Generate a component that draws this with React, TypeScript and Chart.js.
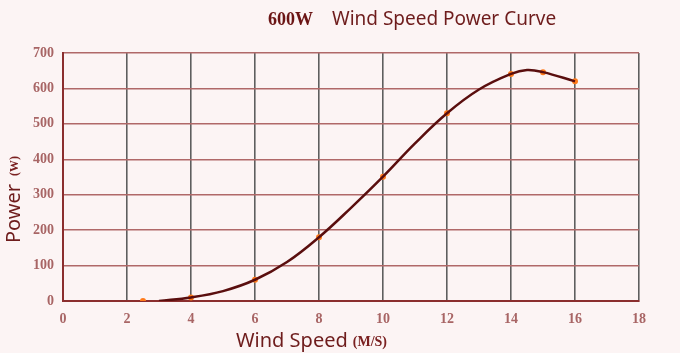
import React, { useEffect, useRef } from "react";
import { Chart, registerables } from "chart.js";

Chart.register(...registerables);

const curveX = [3, 4, 5, 6, 7, 8, 9, 10, 11, 12, 13, 14, 14.5, 15, 16];
const curveY = [0, 10, 28, 60, 110, 180, 263, 351, 445, 530, 597, 641, 652, 646, 620];
const markerX = [2.5, 4, 6, 8, 10, 12, 14, 15, 16];
const markerY = [0, 10, 60, 180, 351, 530, 641, 646, 620];
const titleBold = "600W";
const titleText = "Wind Speed Power Curve";
const xTitle = "Wind Speed";
const xUnit = "(M/S)";
const yTitle = "Power";
const yUnit = "(W)";

const textPlugin = {
  id: "customText",
  beforeDraw(chart: any) {
    const ctx = chart.ctx;
    ctx.save();
    ctx.fillStyle = "#fcf4f4";
    ctx.fillRect(0, 0, chart.width, chart.height);
    ctx.restore();
  },
  afterDraw(chart: any) {
    const ctx = chart.ctx;
    ctx.save();
    ctx.textBaseline = "middle";
    ctx.textAlign = "left";
    ctx.font = "bold 18px 'Liberation Serif'";
    ctx.fillStyle = "#6b1515";
    ctx.fillText(titleBold, 268, 20);
    ctx.font = "19px 'Noto Sans'";
    ctx.fillStyle = "#6e1c1c";
    ctx.fillText(titleText, 332, 20);
    ctx.font = "20px 'Noto Sans'";
    ctx.fillStyle = "#6e1c1c";
    ctx.fillText(xTitle, 236, 341);
    const w = ctx.measureText(xTitle).width;
    ctx.font = "bold 14px 'Liberation Serif'";
    ctx.fillStyle = "#7a2020";
    ctx.fillText(xUnit, 236 + w + 5, 342);
    ctx.translate(14, 243);
    ctx.rotate(-Math.PI / 2);
    ctx.font = "20px 'Noto Sans'";
    ctx.fillStyle = "#6e1c1c";
    ctx.fillText(yTitle, 0, 0);
    const wy = ctx.measureText(yTitle).width;
    ctx.font = "bold 12px 'Liberation Serif'";
    ctx.fillStyle = "#7a2020";
    ctx.fillText(yUnit, wy + 8, 1);
    ctx.restore();
  },
};

export default function App() {
  const ref = useRef<HTMLCanvasElement>(null);
  useEffect(() => {
    const chart = new Chart(ref.current as HTMLCanvasElement, {
      type: "line",
      data: {
        datasets: [
          {
            data: curveX.map((x, i) => ({ x, y: curveY[i] })),
            borderColor: "#5a0e0e",
            borderWidth: 2.5,
            pointRadius: 0,
            tension: 0.4,
            fill: false,
          },
          {
            data: markerX.map((x, i) => ({ x, y: markerY[i] })),
            showLine: false,
            pointRadius: 3,
            pointBackgroundColor: "#ff7a1a",
            pointBorderColor: "#ff7a1a",
            pointBorderWidth: 0,
          },
        ],
      },
      options: {
        animation: false,
        responsive: false,
        maintainAspectRatio: false,
        layout: { padding: { top: 53, right: 41, left: 0, bottom: 0 } },
        plugins: { legend: { display: false }, tooltip: { enabled: false }, title: { display: false } },
        scales: {
          x: {
            type: "linear",
            min: 0,
            max: 18,
            ticks: {
              stepSize: 2,
              padding: 10,
              color: "#a86565",
              font: { family: "'Liberation Serif'", size: 14, weight: "bold" },
              maxRotation: 0,
            },
            grid: { color: "#5e5e5e", lineWidth: 1.6, drawTicks: false },
            border: { color: "#8b2e2e", width: 2 },
            afterFit: (s: any) => { s.height = 52; },
          },
          y: {
            min: 0,
            max: 700,
            ticks: {
              stepSize: 100,
              padding: 9,
              color: "#a86565",
              font: { family: "'Liberation Serif'", size: 14, weight: "bold" },
            },
            grid: { color: "#b06868", lineWidth: 1.5, drawTicks: false },
            border: { color: "#8b2e2e", width: 2 },
            afterFit: (s: any) => { s.width = 63; },
          },
        },
      } as any,
      plugins: [textPlugin],
    });
    return () => chart.destroy();
  }, []);
  return (
    <div style={{ position: "fixed", left: 0, top: 0, width: 680, height: 353 }}>
      <canvas ref={ref} width={680} height={353} style={{ width: 680, height: 353 }} />
    </div>
  );
}
